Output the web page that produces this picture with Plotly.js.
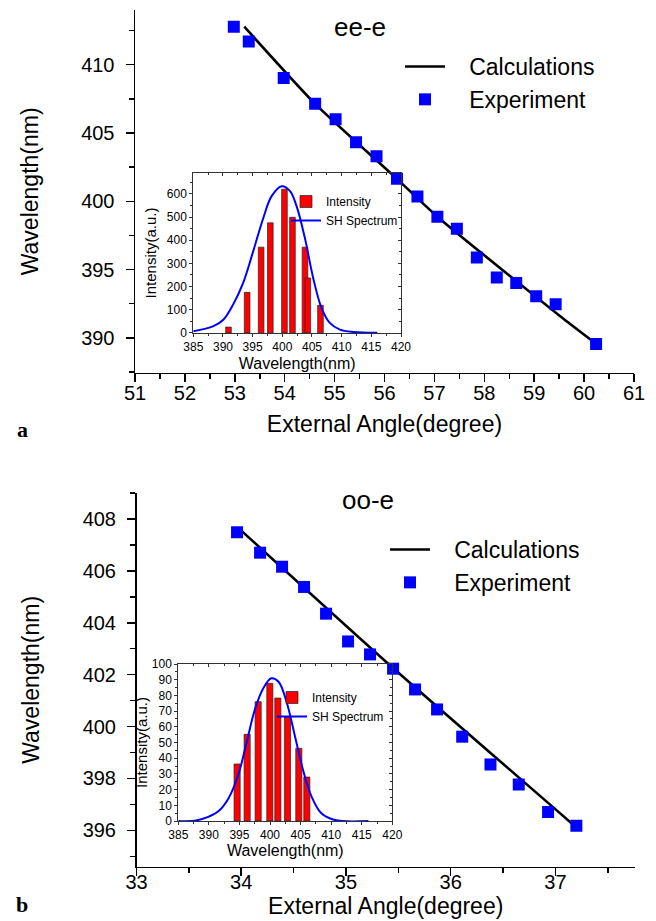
<!DOCTYPE html>
<html>
<head>
<meta charset="utf-8">
<script src="https://cdn.plot.ly/plotly-3.0.1.min.js"></script>
<style>html,body{margin:0;padding:0;background:#fff;}#chart{width:656px;height:921px;}</style>
</head>
<body>
<div id="chart"></div>
<script>
// ---- Panel a (ee-e) ----
const eeAngle = [52.98, 53.28, 53.98, 54.61, 55.02, 55.43, 55.84, 56.25, 56.66, 57.06, 57.45, 57.85, 58.25, 58.64, 59.04, 59.43, 60.24];
const eeWl = [412.78, 411.70, 409.03, 407.13, 406.00, 404.32, 403.30, 401.64, 400.35, 398.87, 397.99, 395.89, 394.41, 394.01, 393.04, 392.46, 389.56];
const eeCalcAngle = [53.19, 54.61, 56.25, 57.06, 59.58, 60.24];
const eeCalcWl = [412.78, 407.13, 401.64, 398.87, 391.41, 389.56];
const eeBarWl = [390.93, 394.07, 396.43, 397.98, 400.36, 401.71, 403.82, 404.30, 406.43];
const eeBarInt = [25, 175, 370, 475, 620, 499, 370, 237, 119];
const eeSpecWl = [385, 388.4, 390.1, 391.7, 393.4, 395.1, 396.8, 398.2, 399.9, 401.3, 402.4, 403.8, 405.2, 406.6, 408.0, 409.7, 412.0, 416.0];
const eeSpecInt = [7, 29, 58, 122, 216, 353, 496, 590, 633, 612, 547, 410, 237, 108, 43, 14, 4, 1];

// ---- Panel b (oo-e) ----
const ooAngle = [33.96, 34.18, 34.39, 34.60, 34.81, 35.02, 35.23, 35.45, 35.66, 35.87, 36.11, 36.38, 36.65, 36.93, 37.20];
const ooWl = [407.49, 406.70, 406.16, 405.38, 404.35, 403.28, 402.78, 402.23, 401.43, 400.66, 399.61, 398.54, 397.77, 396.71, 396.18];
const ooCalcAngle = [34.00, 35.39, 37.17];
const ooCalcWl = [407.55, 402.47, 396.22];
const ooBarWl = [394.62, 396.26, 398.06, 399.97, 401.28, 402.86, 404.71, 406.02];
const ooBarInt = [36.3, 55.2, 76, 87.7, 78.3, 66.2, 46.3, 28];
const ooSpecWl = [385, 387.7, 390.0, 391.5, 393.2, 394.8, 396.2, 397.5, 398.9, 400.2, 401.4, 402.7, 404.1, 405.4, 406.8, 408.4, 410.6, 416.1];
const ooSpecInt = [0, 0.2, 2.8, 6, 14.4, 29.3, 50.5, 70.7, 84.5, 90.9, 88.7, 76, 53.7, 32.5, 15.5, 4.9, 0.6, 0];

const titleA = 'ee-e', titleB = 'oo-e';
const xTitle = 'External Angle(degree)', yTitle = 'Wavelength(nm)';
const inXTitle = 'Wavelength(nm)', inYTitle = 'Intensity(a.u.)';
const calcName = '\u00a0\u00a0\u00a0Calculations', expName = '\u00a0\u00a0\u00a0Experiment';

const FONT = 'Liberation Sans, Arial, sans-serif';
const W = 656, H = 921;
const px = v => v / W;
const py = v => 1 - v / H;

const data = [
  {x: eeCalcAngle, y: eeCalcWl, type: 'scatter', mode: 'lines', name: calcName,
   line: {color: '#000', width: 2.6, shape: 'spline', smoothing: 0.6}, xaxis: 'x', yaxis: 'y', legend: 'legend'},
  {x: eeAngle, y: eeWl, type: 'scatter', mode: 'markers', name: expName,
   marker: {symbol: 'square', size: 12, color: '#0000ff'}, xaxis: 'x', yaxis: 'y', legend: 'legend'},
  {x: ooCalcAngle, y: ooCalcWl, type: 'scatter', mode: 'lines', name: calcName,
   line: {color: '#000', width: 2.6, shape: 'spline', smoothing: 0.6}, xaxis: 'x2', yaxis: 'y2', legend: 'legend3'},
  {x: ooAngle, y: ooWl, type: 'scatter', mode: 'markers', name: expName,
   marker: {symbol: 'square', size: 12, color: '#0000ff'}, xaxis: 'x2', yaxis: 'y2', legend: 'legend3'},
  {x: eeBarWl, y: eeBarInt, type: 'bar', name: 'Intensity', width: 0.95,
   marker: {color: '#ff0000', line: {color: '#222', width: 0.7}}, xaxis: 'x3', yaxis: 'y3', legend: 'legend2'},
  {x: eeSpecWl, y: eeSpecInt, type: 'scatter', mode: 'lines', name: 'SH Spectrum',
   line: {color: '#0000ff', width: 2, shape: 'spline', smoothing: 1}, xaxis: 'x3', yaxis: 'y3', legend: 'legend2'},
  {x: ooBarWl, y: ooBarInt, type: 'bar', name: 'Intensity', width: 1.0,
   marker: {color: '#ff0000', line: {color: '#222', width: 0.7}}, xaxis: 'x4', yaxis: 'y4', legend: 'legend4'},
  {x: ooSpecWl, y: ooSpecInt, type: 'scatter', mode: 'lines', name: 'SH Spectrum',
   line: {color: '#0000ff', width: 2, shape: 'spline', smoothing: 1}, xaxis: 'x4', yaxis: 'y4', legend: 'legend4'},
  {x: [], y: [], type: 'scatter', mode: 'markers', xaxis: 'x5', yaxis: 'y5', showlegend: false, hoverinfo: 'skip'},
  {x: [], y: [], type: 'scatter', mode: 'markers', xaxis: 'x6', yaxis: 'y6', showlegend: false, hoverinfo: 'skip'}
];

function mainX(dom, anchor, range, title, lblOff, titleOff) {
  return {domain: dom, anchor: anchor, range: range, dtick: 1, tick0: Math.ceil(range[0]),
    showline: true, linecolor: '#000', linewidth: 1.5, showgrid: false, zeroline: false,
    ticks: 'outside', ticklen: 8, tickwidth: 1.5, tickcolor: '#000', ticklabelstandoff: lblOff,
    minor: {ticks: 'outside', ticklen: 5, tickwidth: 1.5, tickcolor: '#000', dtick: 0.5, showgrid: false},
    tickfont: {family: FONT, size: 20, color: '#000'},
    title: {text: title, font: {family: FONT, size: 23, color: '#000'}, standoff: titleOff}};
}
function mainY(dom, anchor, range, dtick, tick0, title) {
  return {domain: dom, anchor: anchor, range: range, dtick: dtick, tick0: tick0,
    showline: true, linecolor: '#000', linewidth: 1.5, showgrid: false, zeroline: false,
    ticks: 'outside', ticklen: 8, tickwidth: 1.5, tickcolor: '#000', ticklabelstandoff: 7,
    minor: {ticks: 'outside', ticklen: 5, tickwidth: 1.5, tickcolor: '#000', dtick: dtick / 2, showgrid: false},
    tickfont: {family: FONT, size: 20, color: '#000'},
    title: {text: title, font: {family: FONT, size: 23, color: '#000'}, standoff: 36}};
}
function inX(dom, anchor, standoff) {
  return {domain: dom, anchor: anchor, range: [385, 420], dtick: 5, tick0: 385,
    showline: true, linecolor: '#333', linewidth: 1, showgrid: false, zeroline: false,
    ticks: 'outside', ticklen: 3, tickwidth: 1, tickcolor: '#333', ticklabelstandoff: 0,
    minor: {ticks: 'outside', ticklen: 2, tickwidth: 1, tickcolor: '#333', dtick: 2.5, showgrid: false},
    tickfont: {family: FONT, size: 12, color: '#000'},
    title: {text: inXTitle, font: {family: FONT, size: 16, color: '#000'}, standoff: standoff}};
}
function inY(dom, anchor, range, dtick, standoff) {
  return {domain: dom, anchor: anchor, range: range, dtick: dtick, tick0: 0,
    showline: true, linecolor: '#333', linewidth: 1, showgrid: false, zeroline: false,
    ticks: 'outside', ticklen: 3, tickwidth: 1, tickcolor: '#333', ticklabelstandoff: 0,
    minor: {ticks: 'outside', ticklen: 2, tickwidth: 1, tickcolor: '#333', dtick: dtick / 2, showgrid: false},
    tickfont: {family: FONT, size: 12, color: '#000'},
    title: {text: inYTitle, font: {family: FONT, size: 15, color: '#000'}, standoff: standoff}};
}
function mirrorX(over, anchor, dtick, minor) {
  return {overlaying: over, anchor: anchor, side: 'top', range: [385, 420], dtick: dtick, tick0: 385,
    showline: true, linecolor: '#333', linewidth: 1, showgrid: false, zeroline: false, showticklabels: false,
    ticks: 'inside', ticklen: 3, tickwidth: 1, tickcolor: '#333',
    minor: {ticks: 'inside', ticklen: 2, tickwidth: 1, tickcolor: '#333', dtick: minor, showgrid: false}};
}
function mirrorY(over, anchor, range, dtick) {
  return {overlaying: over, anchor: anchor, side: 'right', range: range, dtick: dtick, tick0: 0,
    showline: true, linecolor: '#333', linewidth: 1, showgrid: false, zeroline: false, showticklabels: false,
    ticks: 'inside', ticklen: 3, tickwidth: 1, tickcolor: '#333',
    minor: {ticks: 'inside', ticklen: 2, tickwidth: 1, tickcolor: '#333', dtick: dtick / 2, showgrid: false}};
}

const topXdom = [px(135), px(634)], topYdom = [py(372.7), py(10)];
const botXdom = [px(136.5), px(635)], botYdom = [py(866.7), py(493)];
const inAXdom = [px(193.3), px(401)], inAYdom = [py(332.9), py(173)];
const inBXdom = [px(178.3), px(392.3)], inBYdom = [py(821), py(664)];

const legBase = {xanchor: 'left', yanchor: 'top', bgcolor: 'rgba(0,0,0,0)', borderwidth: 0, tracegroupgap: 0};

const layout = {
  width: W, height: H, margin: {l: 0, r: 0, t: 0, b: 0},
  paper_bgcolor: '#fff', plot_bgcolor: 'rgba(0,0,0,0)',
  font: {family: FONT, color: '#000'},
  barmode: 'overlay',
  xaxis: mainX(topXdom, 'y', [51, 61], xTitle, -6, 12),
  yaxis: mainY(topYdom, 'x', [387.45, 414], 5, 390, yTitle),
  xaxis2: mainX(botXdom, 'y2', [33, 37.76], xTitle, -11, 4),
  yaxis2: mainY(botYdom, 'x2', [394.6, 409], 2, 396, yTitle),
  xaxis3: inX(inAXdom, 'y3', 4),
  yaxis3: inY(inAYdom, 'x3', [0, 690], 100, 6),
  xaxis4: inX(inBXdom, 'y4', 0),
  yaxis4: inY(inBYdom, 'x4', [0, 100], 10, 0),
  xaxis5: mirrorX('x3', 'y5', 5, 2.5),
  yaxis5: mirrorY('y3', 'x5', [0, 690], 100),
  xaxis6: mirrorX('x4', 'y6', 5, 2.5),
  yaxis6: mirrorY('y4', 'x6', [0, 100], 10),
  legend: Object.assign({}, legBase, {x: px(400), y: py(45), itemwidth: 40, font: {family: FONT, size: 23, color: '#000'}}),
  legend3: Object.assign({}, legBase, {x: px(385), y: py(528), itemwidth: 40, font: {family: FONT, size: 23, color: '#000'}}),
  legend2: Object.assign({}, legBase, {x: px(286), y: py(187), itemwidth: 30, font: {family: FONT, size: 12, color: '#000'}}),
  legend4: Object.assign({}, legBase, {x: px(272), y: py(683), itemwidth: 30, font: {family: FONT, size: 12, color: '#000'}}),
  annotations: [
    {text: titleA, xref: 'paper', yref: 'paper', x: px(360), y: py(27), xanchor: 'center', yanchor: 'middle', showarrow: false,
     font: {family: FONT, size: 26, color: '#000'}},
    {text: titleB, xref: 'paper', yref: 'paper', x: px(368), y: py(500), xanchor: 'center', yanchor: 'middle', showarrow: false,
     font: {family: FONT, size: 26, color: '#000'}},
    {text: '<b>a</b>', xref: 'paper', yref: 'paper', x: px(22), y: py(429), xanchor: 'center', yanchor: 'middle', showarrow: false,
     font: {family: 'Liberation Serif, Times New Roman, serif', size: 22, color: '#000'}},
    {text: '<b>b</b>', xref: 'paper', yref: 'paper', x: px(22), y: py(904), xanchor: 'center', yanchor: 'middle', showarrow: false,
     font: {family: 'Liberation Serif, Times New Roman, serif', size: 22, color: '#000'}}
  ]
};

Plotly.newPlot('chart', data, layout, {staticPlot: true, displayModeBar: false});
</script>
</body>
</html>
